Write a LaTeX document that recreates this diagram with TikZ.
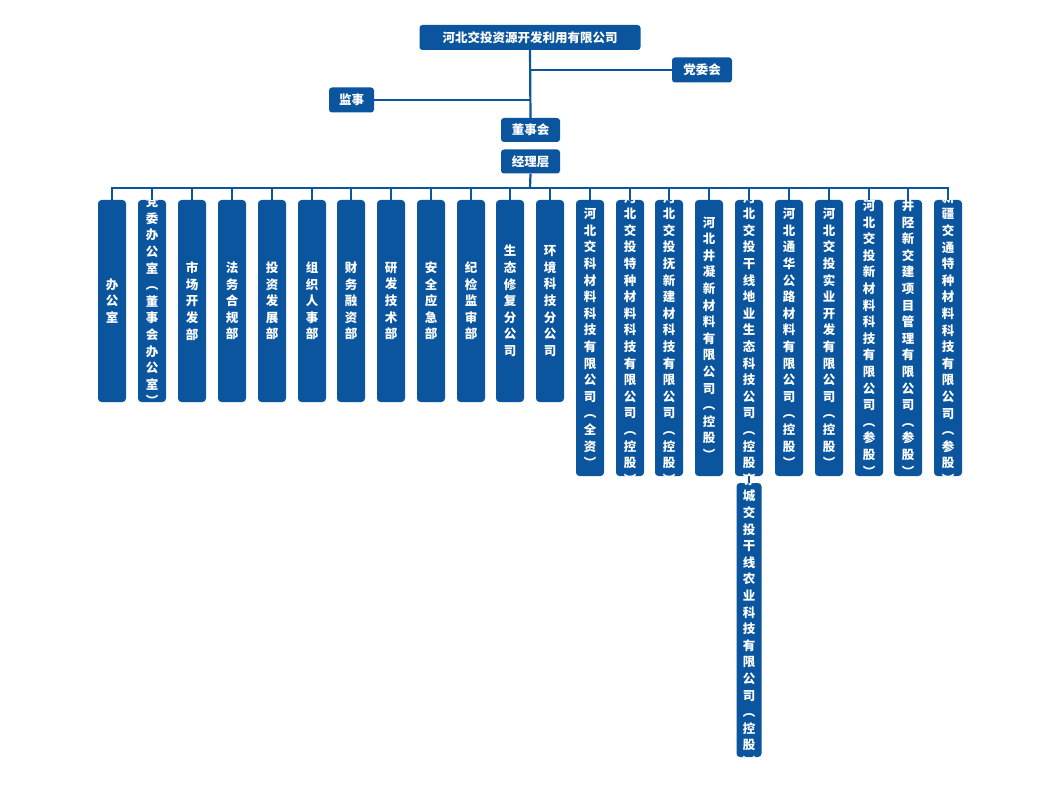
\documentclass[tikz,border=0pt]{standalone}
\usepackage{fontspec}
\setmainfont{Noto Sans CJK SC}
\definecolor{cblue}{HTML}{0B559F}
\def\vt#1{\vbox{\baselineskip=16.6pt\lineskiplimit=-20pt\lineskip=0pt\vtloop#1\relax}}
\def\vtloop#1{\ifx#1\relax\else\hbox to 14pt{\hss#1\hss}\expandafter\vtloop\fi}
\begin{document}
\begin{tikzpicture}[x=1pt,y=-1pt,
  hbox/.style={fill=cblue,rounded corners=3pt,text=white,font=\bfseries\fontsize{12.5}{15}\selectfont,inner sep=0pt,minimum height=25pt},
  col/.style={fill=cblue,rounded corners=3.5pt,inner sep=0pt,minimum width=28pt},
  ctext/.style={text=white,font=\bfseries\fontsize{12.5}{15}\selectfont,inner sep=0pt},
  ln/.style={draw=cblue,line width=2.2pt}]
\useasboundingbox (0,0) rectangle (1062,794);
\node[hbox,minimum width=221pt] (top) at (530,37.5) {河北交投资源开发利用有限公司};
\node[hbox,minimum width=60pt] (dw) at (702,70) {党委会};
\node[hbox,minimum width=45pt] (js) at (351.5,100) {监事};
\node[hbox,minimum width=59pt,minimum height=24pt] (dsh) at (530.5,130) {董事会};
\node[hbox,minimum width=59pt,minimum height=24pt] (jl) at (530.5,161.5) {经理层};
\draw[ln] (top.south) -- (dsh.north);
\draw[ln] (530,70) -- (dw.west);
\draw[ln] (530,100) -- (js.east);
\draw[ln] (jl.south) -- (530,188);
\draw[ln] (112,200) -- (112,188) -- (948,188) -- (948,200);
\foreach \x/\t/\n in {112/办公室/a1,152/党委办公室︵董事会办公室︶/a2,192/市场开发部/a3,232/法务合规部/a4,272/投资发展部/a5,312/组织人事部/a6,351/财务融资部/a7,391/研发技术部/a8,431/安全应急部/a9,471/纪检监审部/a10,510/生态修复分公司/a11,550/环境科技分公司/a12}{
  \node[col,minimum height=202pt] (\n) at (\x,301) {};
  \node[ctext] (\n t) at (\n) {\expandafter\vt\expandafter{\t}};
  \draw[ln] (\n.north) -- (\x,188);
}
\foreach \x/\t/\n in {590/河北交科材料科技有限公司︵全资︶/b1,630/河北交投特种材料科技有限公司︵控股︶/b2,669/河北交投抚新建材科技有限公司︵控股︶/b3,709/河北井凝新材料有限公司︵控股︶/b4,749/河北交投干线地业生态科技公司︵控股︶/b5,789/河北通华公路材料有限公司︵控股︶/b6,829/河北交投实业开发有限公司︵控股︶/b7,869/河北交投新材料科技有限公司︵参股︶/b8,908/井陉新交建项目管理有限公司︵参股︶/b9,948/新疆交通特种材料科技有限公司︵参股︶/b10}{
  \node[col,minimum height=276pt] (\n) at (\x,338) {};
  \node[ctext] (\n t) at (\n) {\expandafter\vt\expandafter{\t}};
  \draw[ln] (\n.north) -- (\x,188);
}
\node[col,minimum width=25pt,minimum height=274pt] (c1) at (749,620) {};
\node[ctext] (c1t) at (c1) {\vt{赤城交投干线农业科技有限公司︵控股︶}};
\draw[ln] (b5.south) -- (c1.north);
\end{tikzpicture}
\end{document}
